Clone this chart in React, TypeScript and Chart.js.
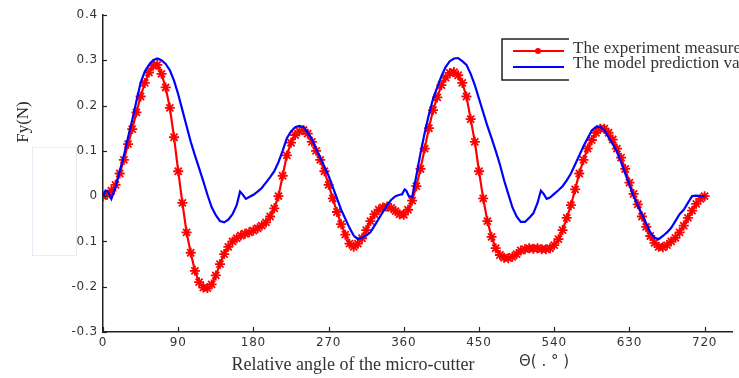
import React, { useEffect, useRef } from "react";
import { Chart, registerables } from "chart.js";

Chart.register(...registerables);

// Relative angle (deg) for the measured series, sampled every 5 degrees
const redAngles = Array.from({ length: 145 }, (_, i) => i * 5);
const redValues = [
  0, 0.003, 0.012, 0.025, 0.05, 0.08, 0.115, 0.148, 0.185, 0.22,
  0.25, 0.273, 0.288, 0.29, 0.27, 0.24, 0.195, 0.13, 0.055, -0.015,
  -0.08, -0.125, -0.165, -0.19, -0.202, -0.203, -0.195, -0.175, -0.15, -0.128,
  -0.112, -0.1, -0.093, -0.087, -0.083, -0.08, -0.076, -0.071, -0.065, -0.058,
  -0.045, -0.027, 0.0, 0.045, 0.09, 0.118, 0.135, 0.143, 0.146, 0.138,
  0.12, 0.1, 0.08, 0.055, 0.025, -0.005, -0.035, -0.062, -0.085, -0.105,
  -0.112, -0.105, -0.093, -0.075, -0.055, -0.04, -0.03, -0.025, -0.023, -0.026,
  -0.033, -0.04, -0.041, -0.03, -0.01, 0.022, 0.06, 0.105, 0.15, 0.19,
  0.218, 0.245, 0.262, 0.272, 0.274, 0.267, 0.25, 0.22, 0.17, 0.12,
  0.055, -0.005, -0.055, -0.09, -0.115, -0.13, -0.136, -0.137, -0.134, -0.128,
  -0.12, -0.117, -0.115, -0.116, -0.115, -0.117, -0.117, -0.115, -0.108, -0.095,
  -0.075, -0.048, -0.02, 0.015, 0.05, 0.08, 0.105, 0.124, 0.14, 0.149,
  0.149, 0.14, 0.125, 0.105, 0.085, 0.06, 0.03, 0.005, -0.018, -0.045,
  -0.068, -0.088, -0.103, -0.112, -0.113, -0.108, -0.1, -0.092, -0.08, -0.065,
  -0.048, -0.032, -0.017, -0.006, 0.0,
];

const blueAngles = [
  0, 3, 6, 10, 15, 20, 25, 30, 35, 40, 45, 50, 55, 60, 65, 70, 75, 80, 85, 90,
  95, 100, 105, 110, 115, 120, 125, 130, 135, 140, 145, 150, 155, 160, 164, 167, 171, 175, 180, 185,
  190, 195, 200, 205, 210, 215, 220, 225, 230, 235, 240, 245, 250, 255, 260, 265, 270, 275, 280, 285,
  290, 295, 300, 305, 310, 315, 320, 325, 330, 335, 340, 345, 350, 355, 358, 361, 363, 366, 370, 375,
  380, 385, 390, 395, 400, 405, 410, 415, 420, 425, 430, 435, 440, 445, 450, 455, 460, 465, 470, 475,
  480, 485, 490, 495, 500, 505, 510, 515, 520, 524, 527, 531, 535, 540, 545, 550, 555, 560, 565, 570,
  575, 580, 585, 590, 595, 600, 605, 610, 615, 620, 625, 630, 635, 640, 645, 650, 655, 660, 665, 670,
  675, 680, 685, 690, 695, 700, 705, 710, 715, 720,
];
const blueValues = [
  0, 0.012, 0.01, -0.006, 0.02, 0.055, 0.09, 0.13, 0.168, 0.21, 0.25, 0.275, 0.29, 0.3, 0.304, 0.3, 0.292, 0.278, 0.255, 0.225,
  0.19, 0.155, 0.12, 0.09, 0.062, 0.033, 0.003, -0.024, -0.042, -0.055, -0.058, -0.052, -0.04, -0.02, 0.01, 0.004, -0.006, -0.002, 0.003, 0.01,
  0.018, 0.03, 0.042, 0.055, 0.075, 0.1, 0.128, 0.143, 0.152, 0.155, 0.152, 0.14, 0.126, 0.105, 0.085, 0.065, 0.045, 0.02, -0.005, -0.03,
  -0.05, -0.07, -0.087, -0.095, -0.092, -0.087, -0.08, -0.065, -0.05, -0.035, -0.02, -0.008, 0.0, 0.003, 0.004, 0.015, 0.012, 0.0, -0.002, 0.045,
  0.095, 0.14, 0.18, 0.215, 0.24, 0.265, 0.285, 0.298, 0.304, 0.305, 0.298, 0.29, 0.27, 0.245, 0.215, 0.185, 0.155, 0.128, 0.1, 0.07,
  0.035, 0.005, -0.025, -0.045, -0.057, -0.057, -0.048, -0.038, -0.015, 0.012, 0.006, -0.006, -0.003, 0.005, 0.013, 0.022, 0.035, 0.05, 0.07, 0.09,
  0.11, 0.128, 0.145, 0.153, 0.153, 0.146, 0.13, 0.115, 0.098, 0.075, 0.05, 0.025, 0.0, -0.02, -0.04, -0.06, -0.08, -0.092, -0.095, -0.088,
  -0.08, -0.07, -0.055, -0.04, -0.03, -0.015, 0.0, 0.001, 0.0, 0.0,
];

const xTicks = [0, 90, 180, 270, 360, 450, 540, 630, 720];
const yTicks = [-0.3, -0.2, -0.1, 0, 0.1, 0.2, 0.3, 0.4];
const seriesLabels = ["The experiment measured values", "The model prediction values"];
const xTitle = "Relative angle of the micro-cutter";
const xUnit = "Θ( . ° )";
const yTitle = "Fy(N)";

const RED = "#ff0000";
const BLUE = "#0000ff";

const decor = {
  id: "decor",
  beforeDraw(chart: any) {
    chart.ctx.letterSpacing = "0.8px";
  },
  afterDraw(chart: any) {
    const ctx = chart.ctx as CanvasRenderingContext2D;
    const xs = chart.scales.x;
    const ys = chart.scales.y;
    const area = chart.chartArea;
    ctx.save();
    ctx.letterSpacing = "0px";
    ctx.strokeStyle = "#222";
    ctx.lineWidth = 1.2;
    // inward tick marks
    xTicks.forEach((v) => {
      const px = Math.round(xs.getPixelForValue(v)) + 0.5;
      ctx.beginPath();
      ctx.moveTo(px, area.bottom);
      ctx.lineTo(px, area.bottom - 5);
      ctx.stroke();
    });
    yTicks.forEach((v) => {
      const py = Math.round(ys.getPixelForValue(v)) + 0.5;
      ctx.beginPath();
      ctx.moveTo(area.left, py);
      ctx.lineTo(area.left + 4, py);
      ctx.stroke();
    });

    // faint rectangle artifact
    ctx.fillStyle = "#ffffff";
    ctx.fillRect(32, 147, 44, 108);
    ctx.strokeStyle = "#e8ebf3";
    ctx.lineWidth = 1;
    ctx.strokeRect(32.5, 147.5, 44, 108);

    // axis titles
    ctx.fillStyle = "#333";
    ctx.font = "18px 'Liberation Serif'";
    ctx.textAlign = "center";
    ctx.textBaseline = "middle";
    ctx.fillText(xTitle, 353, 365);
    ctx.font = "15px 'DejaVu Sans'";
    ctx.textAlign = "left";
    ctx.fillText(xUnit, 519, 362);

    ctx.save();
    ctx.translate(24, 122);
    ctx.rotate(-Math.PI / 2);
    ctx.font = "17px 'Liberation Serif'";
    ctx.textAlign = "center";
    ctx.fillStyle = "#222";
    ctx.fillText(yTitle, 0, 0);
    ctx.restore();

    // legend
    ctx.strokeStyle = "#222";
    ctx.lineWidth = 1.5;
    ctx.beginPath();
    ctx.moveTo(569, 39);
    ctx.lineTo(502, 39);
    ctx.lineTo(502, 80);
    ctx.lineTo(569, 80);
    ctx.stroke();

    ctx.lineWidth = 2;
    ctx.strokeStyle = RED;
    ctx.beginPath();
    ctx.moveTo(513, 51);
    ctx.lineTo(564, 51);
    ctx.stroke();
    ctx.fillStyle = RED;
    ctx.beginPath();
    ctx.arc(538, 51, 3, 0, Math.PI * 2);
    ctx.fill();
    ctx.strokeStyle = BLUE;
    ctx.beginPath();
    ctx.moveTo(513, 67);
    ctx.lineTo(564, 67);
    ctx.stroke();

    ctx.fillStyle = "#333";
    ctx.font = "17px 'Liberation Serif'";
    ctx.textAlign = "left";
    ctx.textBaseline = "middle";
    ctx.fillText(seriesLabels[0], 573, 49);
    ctx.fillText(seriesLabels[1], 573, 64);
    ctx.restore();
  },
};

export default function App() {
  const ref = useRef<HTMLCanvasElement>(null);

  useEffect(() => {
    if (!ref.current) return;
    const chart = new Chart(ref.current, {
      type: "line",
      data: {
        datasets: [
          {
            label: seriesLabels[1],
            data: blueAngles.map((a, i) => ({ x: a, y: blueValues[i] })),
            borderColor: BLUE,
            backgroundColor: BLUE,
            borderWidth: 2.2,
            pointRadius: 0,
            tension: 0,
            order: 0,
          },
          {
            label: seriesLabels[0],
            data: redAngles.map((a, i) => ({ x: a, y: redValues[i] })),
            borderColor: RED,
            backgroundColor: RED,
            borderWidth: 2.2,
            pointStyle: "star",
            pointRadius: 5,
            pointBorderWidth: 1.8,
            pointBorderColor: RED,
            tension: 0,
            order: 1,
          },
        ],
      },
      options: {
        responsive: false,
        animation: false,
        events: [],
        layout: { padding: { top: 15, left: 0, right: 0, bottom: 0 } },
        plugins: {
          legend: { display: false },
          tooltip: { enabled: false },
        },
        scales: {
          x: {
            type: "linear",
            min: 0,
            max: 753,
            afterBuildTicks: (scale: any) => {
              scale.ticks = xTicks.map((v) => ({ value: v }));
            },
            afterFit: (scale: any) => {
              scale.height = 46;
            },
            grid: { display: true, drawOnChartArea: false, drawTicks: false },
            border: { display: true, color: "#222", width: 1.5 },
            ticks: {
              padding: 4,
              color: "#333",
              font: { family: "'DejaVu Sans'", size: 12 },
              maxRotation: 0,
              autoSkip: false,
            },
          },
          y: {
            type: "linear",
            min: -0.3,
            max: 0.4,
            afterBuildTicks: (scale: any) => {
              scale.ticks = yTicks.map((v) => ({ value: v }));
            },
            afterFit: (scale: any) => {
              scale.width = 103;
            },
            grid: { display: true, drawOnChartArea: false, drawTicks: false },
            border: { display: true, color: "#222", width: 1.5 },
            ticks: {
              padding: 5,
              color: "#333",
              font: { family: "'DejaVu Sans'", size: 12 },
              autoSkip: false,
            },
          },
        },
      },
      plugins: [decor],
    });
    return () => chart.destroy();
  }, []);

  return (
    <div style={{ position: "fixed", left: 0, top: 0, width: 739, height: 378, background: "#fff" }}>
      <canvas ref={ref} width={739} height={378} style={{ display: "block" }} />
    </div>
  );
}
